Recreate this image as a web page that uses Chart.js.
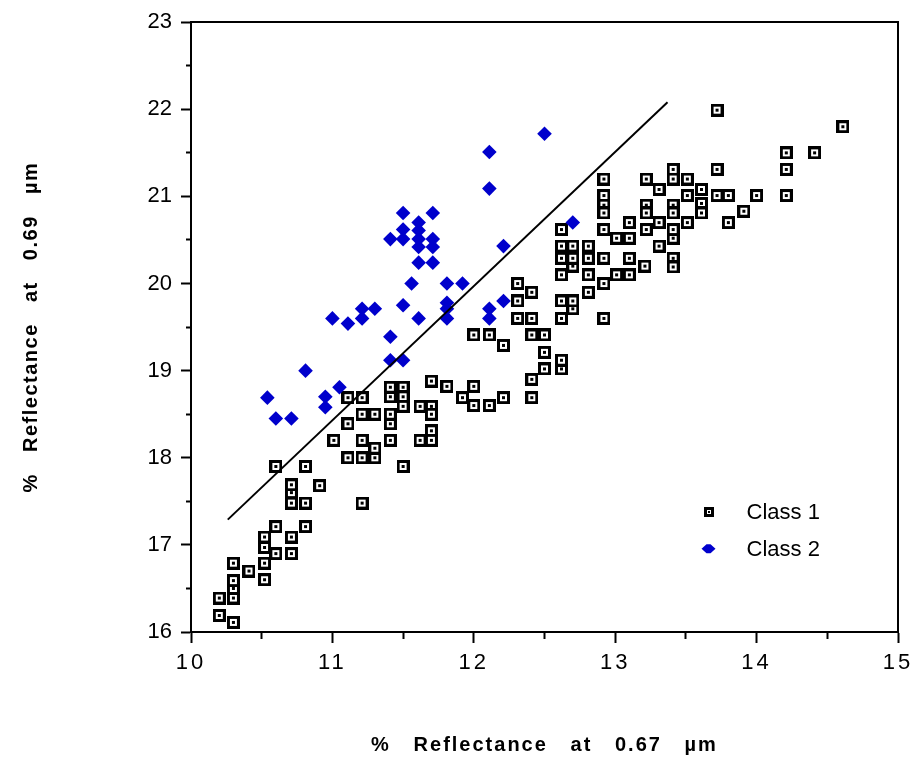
<!DOCTYPE html>
<html>
<head>
<meta charset="utf-8">
<script src="https://cdn.jsdelivr.net/npm/chart.js@4/dist/chart.umd.min.js"></script>
<style>
  html, body { margin: 0; padding: 0; background: #ffffff; }
  #wrap { width: 918px; height: 757px; }
</style>
</head>
<body>
<div id="wrap"><canvas id="chart" width="918" height="757"></canvas></div>
<script>
// Reflectance at 0.67 µm (x) and 0.69 µm (y), in percent
const class1X = [
  10.30, 10.20, 10.20, 10.30, 10.30, 10.30, 10.30, 10.41, 10.52, 10.52,
  10.60, 10.71, 10.52, 10.52, 10.60, 10.71, 10.81, 10.71, 10.81, 10.71,
  10.71, 10.91, 10.60, 10.81, 11.21, 11.11, 11.21, 11.30, 11.30, 11.21,
  11.01, 11.11, 11.21, 11.30, 11.11, 11.21, 11.41, 11.41, 11.41, 11.41,
  11.41, 11.50, 11.50, 11.50, 11.50, 11.62, 11.70, 11.70, 11.70, 11.70,
  11.62, 11.70,
  11.81, 11.92, 12.00, 12.00, 12.11, 12.21, 12.41, 12.41, 12.50, 12.62,
  12.62, 12.50, 12.00, 12.11, 12.21, 12.41, 12.50, 12.31, 12.41, 12.31,
  12.41, 12.31, 12.62, 12.70, 12.62, 12.70, 12.81, 12.92, 12.92, 12.81,
  12.62, 12.70, 12.62, 12.70, 12.81, 12.92, 12.62, 12.70, 12.81, 13.01,
  13.10, 13.10, 13.01, 13.10, 13.21, 13.31, 13.41, 13.41, 13.41, 12.62,
  13.72, 14.61, 14.21, 14.41, 14.21, 13.72, 14.21, 14.00, 13.80, 13.72,
  13.91, 13.80, 12.92, 13.22, 13.41, 13.41, 13.51, 13.31, 13.61, 13.51,
  12.92, 12.92, 12.92, 13.22, 13.22, 13.41, 13.41, 13.61, 13.61, 13.10,
  13.31, 13.51, 13.22, 13.41, 12.92
];
const class1Y = [
  16.11, 16.19, 16.39, 16.39, 16.50, 16.59, 16.79, 16.70, 16.60, 16.79,
  16.90, 16.90, 16.97, 17.09, 17.21, 17.09, 17.21, 17.48, 17.48, 17.60,
  17.69, 17.68, 17.90, 17.90, 17.48, 18.00, 18.00, 18.00, 18.11, 18.20,
  18.20, 18.39, 18.50, 18.50, 18.69, 18.69, 18.20, 18.39, 18.50, 18.70,
  18.81, 18.81, 18.70, 18.59, 17.90, 18.59, 18.59, 18.50, 18.31, 18.20,
  18.20, 18.88,
  18.82, 18.69, 18.82, 18.60, 18.60, 18.69, 18.69, 18.90, 19.02, 19.02,
  19.12, 19.21, 19.41, 19.41, 19.29, 19.41, 19.41, 19.60, 19.60, 19.80,
  19.90, 20.00, 19.60, 19.71, 19.80, 19.80, 19.90, 19.60, 20.00, 20.10,
  20.10, 20.20, 20.29, 20.29, 20.29, 20.29, 20.43, 20.43, 20.43, 20.10,
  20.10, 20.29, 20.52, 20.52, 20.20, 20.43, 20.52, 20.29, 20.19, 20.62,
  21.99, 21.80, 21.50, 21.50, 21.31, 21.31, 21.01, 21.01, 21.01, 21.01,
  20.83, 20.70, 21.20, 21.20, 21.31, 21.20, 21.20, 21.08, 21.08, 21.01,
  21.01, 20.90, 20.81, 20.90, 20.81, 20.90, 20.81, 20.92, 20.81, 20.70,
  20.70, 20.70, 20.62, 20.62, 20.62
];
const class2X = [
  12.50, 12.11, 12.11, 11.50, 11.71, 11.61, 11.50, 11.61, 11.41, 11.50,
  11.61, 11.71, 11.61, 11.71, 11.61, 11.71, 12.21, 11.56, 11.81, 11.92,
  11.81, 11.81, 11.81, 11.61, 11.50, 12.21, 12.11, 12.11, 11.21, 11.30,
  11.21, 11.11, 11.00, 11.41, 11.41, 11.50, 10.81, 11.05, 10.54, 10.60,
  10.71, 10.95, 10.95, 12.70
];
const class2Y = [
  21.72, 21.51, 21.09, 20.81, 20.81, 20.70, 20.62, 20.61, 20.51, 20.51,
  20.51, 20.51, 20.42, 20.42, 20.24, 20.24, 20.43, 20.00, 20.00, 20.00,
  19.78, 19.71, 19.60, 19.60, 19.75, 19.80, 19.71, 19.60, 19.71, 19.71,
  19.60, 19.54, 19.60, 19.39, 19.12, 19.12, 19.00, 18.81, 18.69, 18.45,
  18.45, 18.70, 18.58, 20.70
];
// Separating line end points
const lineX = [10.26, 13.37];
const lineY = [17.29, 22.08];
const seriesNames = ['Class 1', 'Class 2'];

const FONT = "'Liberation Sans', Arial, Helvetica, sans-serif";
Chart.defaults.font.family = FONT;
Chart.defaults.color = '#000000';

// Linear scale that can draw its labels and title with extra letter spacing
class SpacedLinearScale extends Chart.LinearScale {
  drawLabels(chartArea) {
    const ctx = this.ctx;
    ctx.save();
    ctx.letterSpacing = (this.options.labelSpacing || 0) + 'px';
    super.drawLabels(chartArea);
    ctx.restore();
  }
  drawTitle() {
    const ctx = this.ctx;
    ctx.save();
    ctx.letterSpacing = (this.options.titleSpacing || 0) + 'px';
    super.drawTitle();
    ctx.restore();
  }
}
SpacedLinearScale.id = 'spacedLinear';
SpacedLinearScale.defaults = Chart.LinearScale.defaults;
Chart.register(SpacedLinearScale);

// Hollow square marker with a centre dot
function squareMarker(size, border, dot) {
  const c = document.createElement('canvas');
  c.width = size; c.height = size;
  const g = c.getContext('2d');
  g.fillStyle = '#000'; g.fillRect(0, 0, size, size);
  g.fillStyle = '#fff'; g.fillRect(border, border, size - 2 * border, size - 2 * border);
  if (dot > 0) {
    const d0 = (size - dot) / 2;
    g.fillStyle = '#000'; g.fillRect(d0, d0, dot, dot);
  }
  return c;
}
const squareStyle = squareMarker(13, 3, 3);
const squareLegend = squareMarker(10, 3, 2);
const BLUE = '#0000cc';

const toPoints = (xs, ys) => xs.map((x, i) => ({ x: x, y: ys[i] }));

// Legend placed inside the plot area
const innerLegend = {
  id: 'innerLegend',
  afterDatasetsDraw(chart) {
    const ctx = chart.ctx;
    const x = chart.scales.x.getPixelForValue(13.66);
    const y0 = chart.scales.y.getPixelForValue(17.38);
    const gap = 37;
    ctx.save();
    ctx.font = '22px ' + FONT;
    ctx.fillStyle = '#000';
    ctx.textBaseline = 'middle';
    ctx.textAlign = 'left';
    // Class 1
    ctx.drawImage(squareLegend, Math.round(x - 5), Math.round(y0 - 5));
    ctx.fillText(seriesNames[0], x + 38, y0 + 1);
    // Class 2 (flattened diamond)
    const y1 = y0 + gap;
    ctx.fillStyle = BLUE;
    ctx.beginPath();
    ctx.moveTo(x - 7, y1);
    ctx.lineTo(x - 2, y1 - 4.5);
    ctx.lineTo(x + 2, y1 - 4.5);
    ctx.lineTo(x + 7, y1);
    ctx.lineTo(x + 2, y1 + 4.5);
    ctx.lineTo(x - 2, y1 + 4.5);
    ctx.closePath();
    ctx.fill();
    ctx.fillStyle = '#000';
    ctx.fillText(seriesNames[1], x + 38, y1 + 1);
    ctx.restore();
  }
};

const isMajor = (v) => Math.abs(v - Math.round(v)) < 1e-6;

new Chart(document.getElementById('chart'), {
  type: 'scatter',
  data: {
    datasets: [
      {
        type: 'line',
        label: 'fit',
        data: toPoints(lineX, lineY),
        borderColor: '#000',
        borderWidth: 2,
        pointRadius: 0,
        fill: false,
        order: 0
      },
      {
        label: seriesNames[1],
        data: toPoints(class2X, class2Y),
        pointStyle: 'rectRot',
        pointRadius: 7.3,
        backgroundColor: BLUE,
        borderColor: BLUE,
        borderWidth: 0,
        order: 1
      },
      {
        label: seriesNames[0],
        data: toPoints(class1X, class1Y),
        pointStyle: squareStyle,
        pointRadius: 6,
        order: 2
      }
    ]
  },
  options: {
    responsive: false,
    animation: false,
    events: [],
    layout: { padding: { top: 17, right: 20, left: 0, bottom: 0 } },
    plugins: { legend: { display: false }, tooltip: { enabled: false } },
    scales: {
      x: {
        type: 'spacedLinear',
        position: 'bottom',
        min: 10, max: 15,
        labelSpacing: 3,
        titleSpacing: 2,
        afterBuildTicks: (s) => { s.ticks = []; for (let v = 10; v <= 15.001; v += 0.5) s.ticks.push({ value: Math.round(v * 10) / 10 }); },
        afterFit: (s) => { s.height = 125; },
        ticks: {
          autoSkip: false, maxRotation: 0, padding: 7,
          font: { size: 22 }, color: '#000',
          callback: (v) => isMajor(v) ? String(Math.round(v)) : ''
        },
        grid: {
          drawOnChartArea: false, drawTicks: true, tickLength: 11,
          tickColor: '#000', tickWidth: 2,
          tickBorderDash: (ctx) => (ctx.tick && !isMajor(ctx.tick.value)) ? [6, 100] : []
        },
        border: { display: true, color: '#000', width: 2 },
        title: {
          display: true,
          text: '%   Reflectance   at   0.67   µm',
          font: { size: 20, weight: 'bold' },
          color: '#000',
          padding: { top: 4, bottom: 0 }
        }
      },
      y: {
        type: 'spacedLinear',
        position: 'left',
        min: 16, max: 23,
        titleSpacing: 1.5,
        afterBuildTicks: (s) => { s.ticks = []; for (let v = 16; v <= 23.001; v += 0.5) s.ticks.push({ value: Math.round(v * 10) / 10 }); },
        afterFit: (s) => { s.width = 191; },
        ticks: {
          autoSkip: false, padding: 9,
          font: { size: 22 }, color: '#000',
          callback: (v) => isMajor(v) ? String(Math.round(v)) : ''
        },
        grid: {
          drawOnChartArea: false, drawTicks: true, tickLength: 10,
          tickColor: '#000', tickWidth: 2,
          tickBorderDash: (ctx) => (ctx.tick && !isMajor(ctx.tick.value)) ? [0, 5, 5, 100] : []
        },
        border: { display: true, color: '#000', width: 2 },
        title: {
          display: true,
          text: '%   Reflectance   at   0.69   µm',
          font: { size: 20, weight: 'bold' },
          color: '#000',
          padding: { top: 19, bottom: 0 }
        }
      },
      xTop: {
        type: 'linear', position: 'top', min: 10, max: 15,
        afterFit: (s) => { s.height = 0; },
        ticks: { display: false },
        grid: { display: true, drawOnChartArea: false, drawTicks: false },
        border: { display: true, color: '#000', width: 2 }
      },
      yRight: {
        type: 'linear', position: 'right', min: 16, max: 23,
        afterFit: (s) => { s.width = 0; },
        ticks: { display: false },
        grid: { display: true, drawOnChartArea: false, drawTicks: false },
        border: { display: true, color: '#000', width: 2 }
      }
    }
  },
  plugins: [innerLegend]
});
</script>
</body>
</html>
